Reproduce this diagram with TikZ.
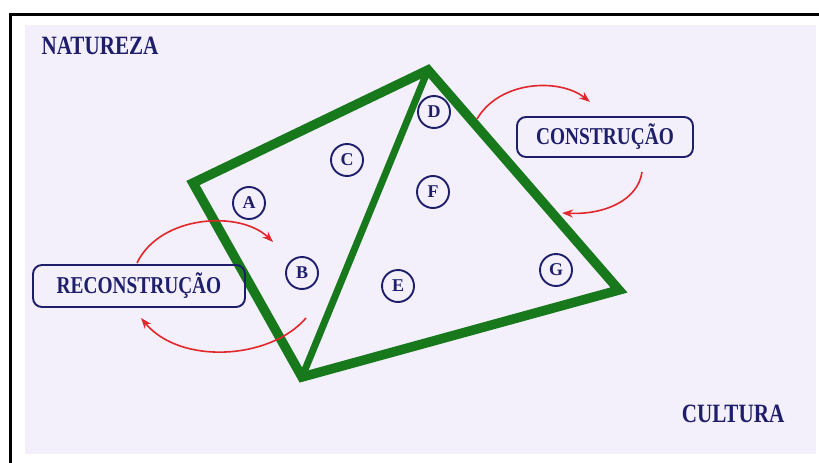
\documentclass[tikz,border=0pt]{standalone}
\usepackage{fontspec}
\setmainfont{Liberation Serif}
\usetikzlibrary{arrows.meta}
\definecolor{bgl}{HTML}{F3EFFB}
\definecolor{navy}{HTML}{1E1E6A}
\definecolor{grn}{HTML}{17781C}
\definecolor{rd}{HTML}{E0282C}
\tikzset{
  lbl/.style={circle, draw=navy, line width=1.9pt, minimum size=32pt, inner sep=0pt, text=navy, font=\bfseries\fontsize{18}{18}\selectfont},
  tag/.style={draw=navy, line width=1.9pt, rounded corners=9pt, text=navy, inner sep=0pt, font=\bfseries\fontsize{22}{22}\selectfont},
  big/.style={text=navy, font=\bfseries\fontsize{24}{24}\selectfont},
  quad/.style={draw=grn, line width=9.5pt, line join=miter},
  diag/.style={draw=grn, line width=7pt},
  rarrow/.style={draw=rd, line width=1.6pt, -{Stealth[length=11pt,width=8pt]}}
}
\begin{document}
\begin{tikzpicture}[x=1pt,y=-1pt]
\useasboundingbox (0,0) rectangle (819,463);
\fill[white] (0,0) rectangle (819,463);
\fill[bgl] (25,25) rectangle (816,454);
\draw[black, line width=3pt] (10.5,470) -- (10.5,14.5) -- (830,14.5);
% titles
\node[big] (nat) at (100,46) {\scalebox{0.88}[1.1]{NATUREZA}};
\node[big] (cul) at (733,414) {\scalebox{0.88}[1.1]{CULTURA}};
% quadrilateral
\coordinate (T) at (428,70);
\coordinate (L) at (193,183);
\coordinate (Bo) at (302,377);
\coordinate (R) at (619,290);
\draw[quad] (T) -- (L) -- (Bo) -- (R) -- cycle;
\draw[diag] (T) -- (Bo);
% circles
\node[lbl] (A) at (249,203) {A};
\node[lbl] (B) at (302,273) {B};
\node[lbl] (C) at (347,160) {C};
\node[lbl] (D) at (434,112) {D};
\node[lbl] (E) at (398,286) {E};
\node[lbl] (F) at (433,192) {F};
\node[lbl] (G) at (556,270) {G};
% boxes
\node[tag, minimum width=176pt, minimum height=40pt] (cons) at (605,137) {\scalebox{0.88}[1.1]{CONSTRUÇÃO}};
\node[tag, minimum width=212pt, minimum height=42pt] (recons) at (139,286) {\scalebox{0.88}[1.1]{RECONSTRUÇÃO}};
% arrows
\coordinate (c1s) at (477,119);
\coordinate (c1e) at (590,102);
\draw[rarrow] (c1s) .. controls (500,80) and (560,78) .. (c1e);
\coordinate (c2s) at (642,172);
\coordinate (c2e) at (562,213);
\draw[rarrow] (c2s) .. controls (638,200) and (605,215) .. (c2e);
\coordinate (r1s) at (137,263);
\coordinate (r1e) at (273,242);
\draw[rarrow] (r1s) .. controls (160,215) and (240,210) .. (r1e);
\coordinate (r2s) at (306,318);
\coordinate (r2e) at (141,318);
\draw[rarrow] (r2s) .. controls (270,360) and (180,365) .. (r2e);
\end{tikzpicture}
\end{document}
